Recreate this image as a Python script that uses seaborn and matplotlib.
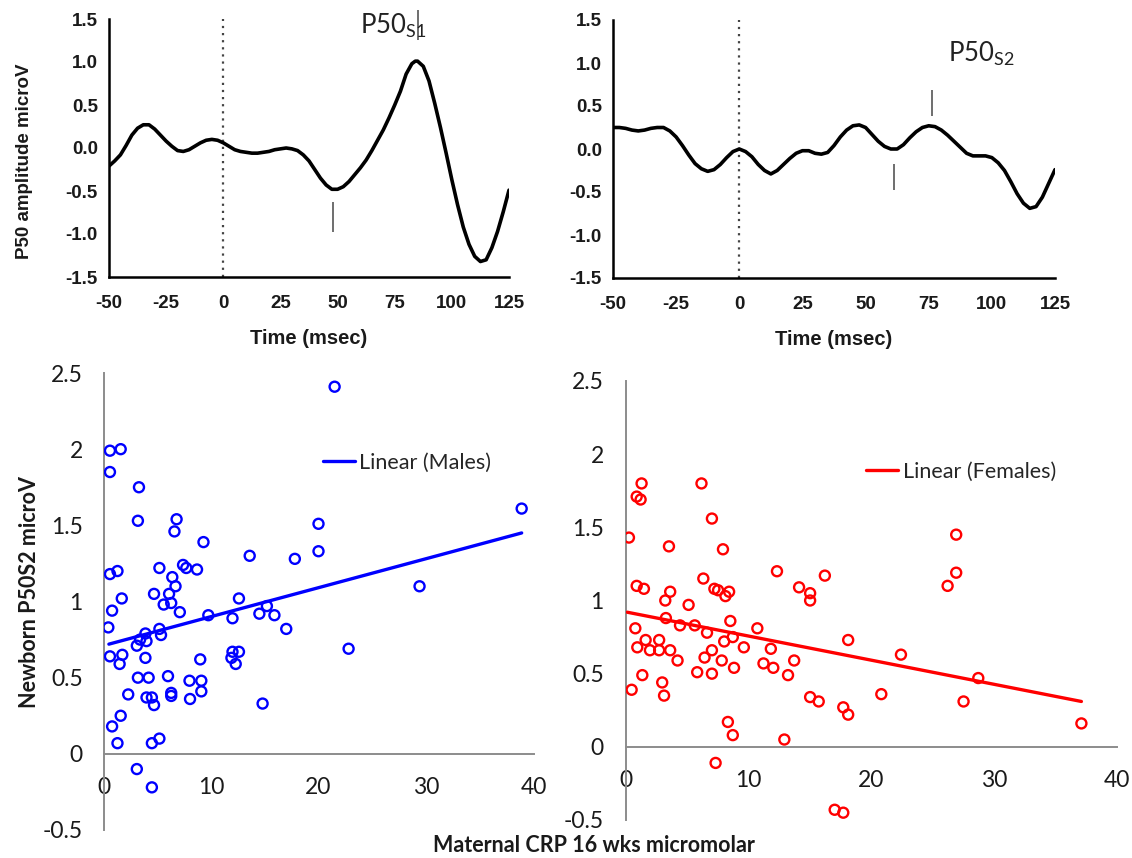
import numpy as np
import pandas as pd
import matplotlib
matplotlib.use("Agg")
import matplotlib.pyplot as plt
import seaborn as sns

# averaged P50 waveforms (msec, microV)
s1_time = [-50, -47.5, -45, -42.5, -40, -37.5, -35, -32.5, -30, -27.5, -25, -22.5, -20, -17.5, -15,
           -12.5, -10, -7.5, -5, -2.5, 0, 2.5, 5, 7.5, 10, 12.5, 15, 17.5, 20, 22.5, 25, 27.5, 30,
           32.5, 35, 37.5, 40, 42.5, 45, 47.5, 50, 52.5, 55, 57.5, 60, 62.5, 65, 67.5, 70, 72.5, 75,
           77.5, 80, 82.5, 84, 85, 87.5, 90, 92.5, 95, 97.5, 100, 102.5, 105, 107.5, 110, 112.5, 115,
           117.5, 120, 122.5, 125]
s1_amp = [-0.21, -0.15, -0.08, 0.03, 0.15, 0.23, 0.27, 0.27, 0.22, 0.15, 0.08, 0.02, -0.03, -0.04,
          -0.02, 0.02, 0.06, 0.09, 0.10, 0.09, 0.06, 0.02, -0.02, -0.04, -0.05, -0.06, -0.06, -0.05,
          -0.04, -0.02, -0.01, 0.0, -0.01, -0.03, -0.08, -0.15, -0.25, -0.35, -0.43, -0.48, -0.48,
          -0.45, -0.39, -0.31, -0.23, -0.14, -0.03, 0.09, 0.21, 0.35, 0.50, 0.66, 0.86, 0.98, 1.01,
          1.01, 0.95, 0.78, 0.52, 0.24, -0.06, -0.37, -0.66, -0.92, -1.12, -1.26, -1.32, -1.30,
          -1.16, -0.97, -0.74, -0.49]

s2_time = [-50, -47.5, -45, -42.5, -40, -37.5, -35, -32.5, -30, -27.5, -25, -22.5, -20, -17.5, -15,
           -12.5, -10, -7.5, -5, -2.5, 0, 2.5, 5, 7.5, 10, 12.5, 15, 17.5, 20, 22.5, 25, 27.5, 30,
           32.5, 35, 37.5, 40, 42.5, 45, 47.5, 50, 52.5, 55, 57.5, 60, 62.5, 65, 67.5, 70, 72.5, 75,
           77.5, 80, 82.5, 85, 87.5, 90, 92.5, 95, 97.5, 100, 102.5, 105, 107.5, 110, 112.5, 115,
           117.5, 120, 122.5, 125]
s2_amp = [0.25, 0.25, 0.24, 0.22, 0.21, 0.22, 0.24, 0.25, 0.25, 0.21, 0.14, 0.04, -0.07, -0.17,
          -0.23, -0.26, -0.24, -0.18, -0.10, -0.03, 0.0, -0.03, -0.09, -0.18, -0.25, -0.29, -0.25,
          -0.18, -0.11, -0.05, -0.02, -0.02, -0.05, -0.06, -0.04, 0.04, 0.14, 0.22, 0.27, 0.28, 0.25,
          0.17, 0.09, 0.03, 0.0, 0.0, 0.05, 0.13, 0.20, 0.25, 0.27, 0.26, 0.22, 0.16, 0.09, 0.02,
          -0.05, -0.08, -0.08, -0.08, -0.10, -0.16, -0.25, -0.38, -0.52, -0.63, -0.69, -0.67, -0.56,
          -0.40, -0.24]

# little vertical peak markers
s1_mark_x = [48, 85.3]
s1_mark_lo = [-0.98, 1.26]
s1_mark_hi = [-0.63, 1.60]
s2_mark_x = [61.2, 76.3]
s2_mark_lo = [-0.48, 0.38]
s2_mark_hi = [-0.17, 0.69]

time_ticks = [-50, -25, 0, 25, 50, 75, 100, 125]
amp_ticks = [-1.5, -1.0, -0.5, 0.0, 0.5, 1.0, 1.5]

# newborn P50S2 vs maternal CRP
male_crp = [21.5, 0.6, 1.6, 0.6, 3.3, 3.2, 6.8, 6.6, 9.3, 20.0, 20.0, 13.6, 17.8,
            0.6, 1.3, 5.2, 7.4, 7.7, 8.7, 6.4, 6.7, 4.7, 6.1, 1.7, 12.6,
            5.6, 6.3, 0.8, 7.1, 9.75, 14.5, 15.2, 15.9, 12.0, 17.0, 0.45,
            3.9, 5.2, 5.35, 3.4, 4.0, 3.1, 0.6, 1.75, 1.5, 3.9, 9.0,
            12.0, 12.6, 11.9, 12.3, 3.2, 4.2, 6.0, 8.0, 9.1, 9.1, 2.3,
            6.3, 6.3, 4.0, 4.5, 8.05, 4.7, 14.8, 1.6, 0.8, 1.3, 4.5, 5.2,
            3.1, 4.5, 22.8, 38.9, 29.4]
male_p50 = [2.41, 1.99, 2.0, 1.85, 1.75, 1.53, 1.54, 1.46, 1.39, 1.51, 1.33, 1.30, 1.28,
            1.18, 1.20, 1.22, 1.24, 1.22, 1.21, 1.16, 1.10, 1.05, 1.05, 1.02, 1.02,
            0.98, 0.99, 0.94, 0.93, 0.91, 0.92, 0.97, 0.91, 0.89, 0.82, 0.83,
            0.79, 0.82, 0.78, 0.75, 0.74, 0.71, 0.64, 0.65, 0.59, 0.63, 0.62,
            0.67, 0.67, 0.63, 0.59, 0.50, 0.50, 0.51, 0.48, 0.48, 0.41, 0.39,
            0.40, 0.38, 0.37, 0.37, 0.36, 0.32, 0.33, 0.25, 0.18, 0.07, 0.07, 0.10,
            -0.10, -0.22, 0.69, 1.61, 1.10]

female_crp = [1.27, 0.87, 1.19, 6.15, 7.0, 0.24, 3.5, 7.9, 12.3, 16.2, 6.3,
              0.87, 1.46, 3.6, 7.2, 7.5, 8.4, 8.1, 14.1, 15.0, 15.0, 3.2,
              5.1, 3.25, 8.5, 0.76, 4.4, 5.6, 6.6, 10.7, 1.6, 2.7, 8.0,
              8.7, 18.1, 0.92, 1.95, 2.7, 3.6, 7.0, 9.6, 11.8, 4.2, 6.4,
              7.8, 11.2, 13.7, 8.8, 12.0, 1.33, 5.8, 7.0, 13.2, 0.46, 2.95,
              3.1, 15.0, 15.7, 17.7, 18.1, 8.3, 8.7, 12.9, 7.3, 17.0, 17.7,
              26.9, 26.9, 26.2, 22.4, 28.7, 20.8, 27.5, 37.1]
female_p50 = [1.80, 1.71, 1.69, 1.80, 1.56, 1.43, 1.37, 1.35, 1.20, 1.17, 1.15,
              1.10, 1.08, 1.06, 1.08, 1.07, 1.06, 1.03, 1.09, 1.05, 1.00, 1.00,
              0.97, 0.88, 0.86, 0.81, 0.83, 0.83, 0.78, 0.81, 0.73, 0.73, 0.72,
              0.75, 0.73, 0.68, 0.66, 0.66, 0.66, 0.66, 0.68, 0.67, 0.59, 0.61,
              0.59, 0.57, 0.59, 0.54, 0.54, 0.49, 0.51, 0.50, 0.49, 0.39, 0.44,
              0.35, 0.34, 0.31, 0.27, 0.22, 0.17, 0.08, 0.05, -0.11, -0.43, -0.45,
              1.45, 1.19, 1.10, 0.63, 0.47, 0.36, 0.31, 0.16]

# linear trend lines as drawn in the figure
male_fit_x = [0.5, 38.9]
male_fit_y = [0.72, 1.45]
female_fit_x = [0.1, 37.1]
female_fit_y = [0.92, 0.31]

crp_ticks = [0, 10, 20, 30, 40]
p50_ticks = [-0.5, 0, 0.5, 1, 1.5, 2, 2.5]
p50_tick_labels = ["-0.5", "0", "0.5", "1", "1.5", "2", "2.5"]

sns.set_style("white")
plt.rcParams["font.family"] = ["Liberation Sans", "DejaVu Sans"]
plt.rcParams["axes.unicode_minus"] = False
plt.rcParams["mathtext.fontset"] = "custom"
plt.rcParams["mathtext.rm"] = "Lato"

fig = plt.figure(figsize=(11.32, 8.58), dpi=100)

W, H = 1132, 858
def px_axes(x0, x1, y_top, y_bot):
    return fig.add_axes([x0 / W, 1 - y_bot / H, (x1 - x0) / W, (y_bot - y_top) / H])

ax1 = px_axes(109, 509, 19, 277)
ax2 = px_axes(613, 1055, 20, 278)

for ax, t, a, mx, mlo, mhi in [(ax1, s1_time, s1_amp, s1_mark_x, s1_mark_lo, s1_mark_hi),
                               (ax2, s2_time, s2_amp, s2_mark_x, s2_mark_lo, s2_mark_hi)]:
    ax.axvline(0, color="#444444", lw=1.6, ls=(0, (1, 2.2)))
    sns.lineplot(x=t, y=a, ax=ax, color="black", lw=2.6, sort=False, estimator=None,
                 solid_joinstyle="round", solid_capstyle="round")
    ax.vlines(mx, mlo, mhi, color="#555555", lw=1.2, clip_on=False)
    ax.set_xlim(-50, 125)
    ax.set_ylim(-1.5, 1.5)
    ax.set_xticks(time_ticks)
    ax.set_yticks(amp_ticks)
    ax.set_yticklabels([f"{v:.1f}" for v in amp_ticks])
    for s in ["top", "right"]:
        ax.spines[s].set_visible(False)
    for s in ["left", "bottom"]:
        ax.spines[s].set_linewidth(1.8)
        ax.spines[s].set_color("black")
    ax.tick_params(axis="both", direction="out", length=5, width=1.8, color="black",
                   labelcolor="#1a1a1a")
    ax.tick_params(axis="x", pad=8)
    ax.tick_params(axis="y", pad=3)
    for lab in ax.get_xticklabels() + ax.get_yticklabels():
        lab.set_fontsize(13.5)
        lab.set_fontweight("bold")
    ax.set_xlabel("Time (msec)", fontsize=14.5, fontweight="bold", labelpad=12, color="#1a1a1a")

ax1.text(59.8, 1.33, r"P50$_{\mathrm{S1}}$", fontsize=18.5, family="Lato", va="baseline",
         color="#222222")
ax2.text(82.8, 1.015, r"P50$_{\mathrm{S2}}$", fontsize=18.5, family="Lato", va="baseline",
         color="#222222")
fig.text(25 / W, 1 - 161 / H, "P50 amplitude microV", rotation=90, ha="center", va="center",
         fontsize=13.5, fontweight="bold", color="#1a1a1a")

ax3 = px_axes(103.5, 533.5, 373, 830)
ax4 = px_axes(626, 1117, 381, 820)

for ax, cx, cy, fx, fy, col, lab, lpos, ypad in [
        (ax3, male_crp, male_p50, male_fit_x, male_fit_y, "#0000ff", "Linear (Males)", (0.51, 0.803), 10),
        (ax4, female_crp, female_p50, female_fit_x, female_fit_y, "#ff0000", "Linear (Females)", (0.489, 0.793), 11)]:
    sns.scatterplot(x=cx, y=cy, ax=ax, marker="o", s=52, facecolor="none", edgecolor=col,
                    linewidth=1.7, legend=False, zorder=3)
    sns.lineplot(x=fx, y=fy, ax=ax, color=col, lw=2.4, label=lab, zorder=4)
    ax.set_xlim(0, 40)
    ax.set_ylim(-0.5, 2.5)
    ax.set_xticks(crp_ticks)
    ax.set_yticks(p50_ticks)
    ax.set_yticklabels(p50_tick_labels)
    ax.spines["top"].set_visible(False)
    ax.spines["right"].set_visible(False)
    ax.spines["bottom"].set_position(("data", 0))
    for s in ["left", "bottom"]:
        ax.spines[s].set_color("#8c8c8c")
        ax.spines[s].set_linewidth(1.4)
    ax.tick_params(axis="both", direction="out", length=5, width=1.3, color="#8c8c8c",
                   labelcolor="#1a1a1a")
    ax.tick_params(axis="x", pad=12)
    ax.tick_params(axis="y", pad=ypad)
    for t in ax.get_xticklabels() + ax.get_yticklabels():
        t.set_fontsize(16.5)
        t.set_family("Lato")
    ax.legend(loc="center left", bbox_to_anchor=lpos, frameon=False, handlelength=1.5,
              handletextpad=0.2, borderpad=0, borderaxespad=0,
              prop={"family": "Lato", "size": 15.5})
    ax.set_xlabel("")
    ax.set_ylabel("")

fig.text(30 / W, 1 - 592 / H, "Newborn P50S2 microV", rotation=90, ha="center", va="center",
         fontsize=15.5, fontweight="bold", family="Lato", color="#1a1a1a")
fig.text(594 / W, 1 - 845 / H, "Maternal CRP 16 wks micromolar", ha="center", va="center",
         fontsize=15.5, fontweight="bold", family="Lato", color="#1a1a1a")

fig.savefig("out.png", dpi=100)
